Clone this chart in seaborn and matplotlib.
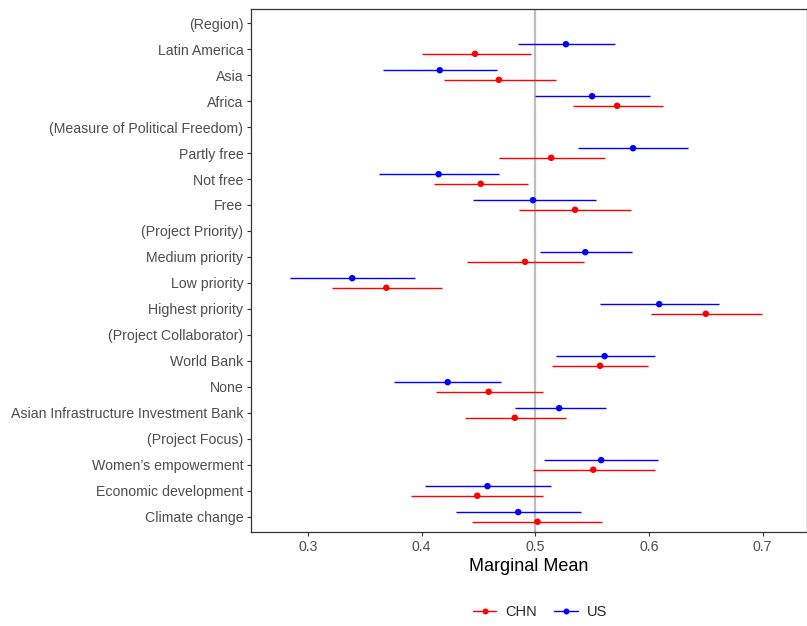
import numpy as np
import pandas as pd
import matplotlib
matplotlib.use("Agg")
import matplotlib.pyplot as plt
from matplotlib.lines import Line2D
import seaborn as sns

# Attribute levels, top to bottom; header rows carry no estimates
levels = [
    "(Region)", "Latin America", "Asia", "Africa",
    "(Measure of Political Freedom)", "Partly free", "Not free", "Free",
    "(Project Priority)", "Medium priority", "Low priority", "Highest priority",
    "(Project Collaborator)", "World Bank", "None", "Asian Infrastructure Investment Bank",
    "(Project Focus)", "Women’s empowerment", "Economic development", "Climate change",
]

est_levels = [
    "Latin America", "Asia", "Africa",
    "Partly free", "Not free", "Free",
    "Medium priority", "Low priority", "Highest priority",
    "World Bank", "None", "Asian Infrastructure Investment Bank",
    "Women’s empowerment", "Economic development", "Climate change",
]

us_mean = [0.527, 0.416, 0.550, 0.586, 0.415, 0.498, 0.544, 0.339, 0.609,
           0.561, 0.423, 0.521, 0.558, 0.458, 0.485]
us_lower = [0.485, 0.366, 0.500, 0.538, 0.363, 0.445, 0.504, 0.284, 0.557,
            0.518, 0.376, 0.482, 0.508, 0.403, 0.430]
us_upper = [0.570, 0.466, 0.601, 0.634, 0.468, 0.553, 0.585, 0.394, 0.662,
            0.605, 0.470, 0.562, 0.608, 0.514, 0.540]

chn_mean = [0.447, 0.468, 0.572, 0.514, 0.452, 0.535, 0.491, 0.369, 0.650,
            0.557, 0.459, 0.482, 0.551, 0.449, 0.502]
chn_lower = [0.400, 0.420, 0.533, 0.468, 0.411, 0.486, 0.440, 0.321, 0.602,
             0.515, 0.413, 0.438, 0.498, 0.391, 0.444]
chn_upper = [0.496, 0.518, 0.612, 0.561, 0.494, 0.584, 0.543, 0.418, 0.699,
             0.599, 0.507, 0.527, 0.605, 0.507, 0.559]

countries = ["CHN", "US"]
palette = {"CHN": "#FF0000", "US": "#0000FF"}
dodge = {"CHN": 0.185, "US": -0.185}

rows = []
for name, m, lo, hi in (("US", us_mean, us_lower, us_upper),
                        ("CHN", chn_mean, chn_lower, chn_upper)):
    for lev, a, b, c in zip(est_levels, m, lo, hi):
        rows.append({"level": lev, "country": name, "mean": a, "lower": b, "upper": c})
df = pd.DataFrame(rows)
df["ypos"] = df["level"].map({l: i for i, l in enumerate(levels)}) + df["country"].map(dodge)

sns.set_theme(style="white")
plt.rcParams["font.family"] = ["Liberation Sans", "DejaVu Sans"]

fig = plt.figure(figsize=(8.07, 6.26), dpi=100)
ax = fig.add_axes([251 / 807, 1 - 532 / 626, 556 / 807, 523 / 626])

ax.axvline(0.5, color="#BEBEBE", lw=1.6, zorder=1)

for c in countries:
    sub = df[df["country"] == c]
    ax.hlines(sub["ypos"], sub["lower"], sub["upper"], color=palette[c], lw=1.0, zorder=2)

sns.scatterplot(data=df, x="mean", y="ypos", hue="country", palette=palette,
                hue_order=countries, s=22, edgecolor="none", legend=False,
                ax=ax, zorder=3)

ax.set_ylim(len(levels) - 1 + 0.58, -0.54)
ax.set_yticks(range(len(levels)))
ax.set_yticklabels(levels)
ax.set_xlim(0.25, 0.739)
ax.set_xticks([0.3, 0.4, 0.5, 0.6, 0.7])
ax.set_xticklabels(["0.3", "0.4", "0.5", "0.6", "0.7"])
ax.set_ylabel("")
ax.set_xlabel("Marginal Mean", fontsize=13, color="black", labelpad=3)

ax.tick_params(axis="both", which="major", labelsize=10.15, labelcolor="#4D4D4D",
               color="#333333", length=3, width=0.8, left=True, bottom=True, pad=2.5)
for sp in ax.spines.values():
    sp.set_visible(True)
    sp.set_color("#333333")
    sp.set_linewidth(0.9)
ax.grid(False)

handles = [Line2D([0], [0], color=palette[c], lw=1.0, marker="o", markersize=4.3,
                  markeredgewidth=0) for c in countries]
fig.legend(handles, countries, loc="center", bbox_to_anchor=(540 / 807, 1 - 612 / 626),
           ncol=2, frameon=False, fontsize=10.5, handlelength=1.6, columnspacing=1.2,
           handletextpad=0.6)

fig.savefig("out.png", dpi=100)
